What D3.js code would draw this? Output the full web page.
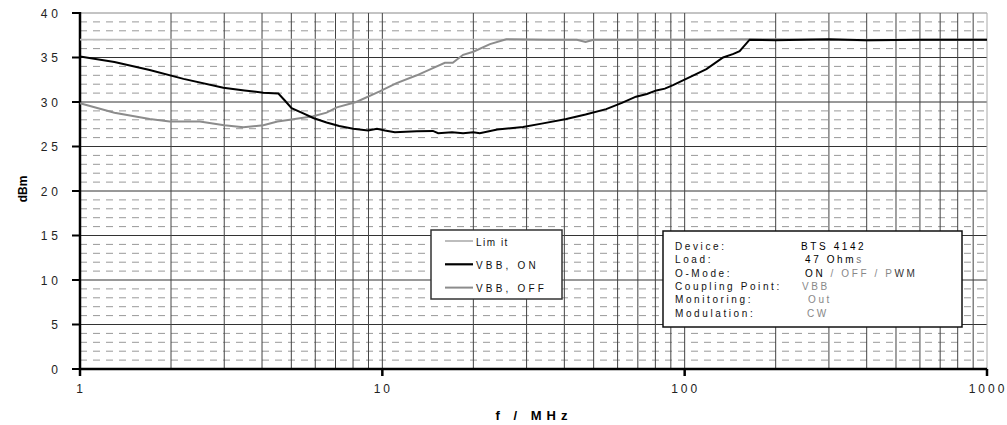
<!DOCTYPE html>
<meta charset="utf-8">
<script src="https://d3js.org/d3.v7.min.js"></script>
<style>
  body { margin: 0; background: #fff; }
  text { font-family: "Liberation Sans", Arial, sans-serif; }
</style>
<div id="chart"></div>
<script>
  // data
  var freqLimit = [1, 1000]
  var valLimit  = [37, 37]

  var freqOn = [1, 1.3, 1.7, 2.2, 2.98, 3.5, 4.04, 4.53, 4.75, 5.01, 5.5, 5.91, 6.54, 7.2, 8.01, 8.97, 9.6, 10.2, 11.0, 13, 14.7, 15.3, 17, 18.5, 20, 21, 24, 29.2, 34, 40.6, 47, 55, 62, 69, 75, 80.6, 86, 91.5, 104, 118, 134, 145, 152, 164, 200, 300, 400, 600, 1000]
  var valOn  = [35.1, 34.5, 33.6, 32.6, 31.6, 31.3, 31.05, 30.95, 30.2, 29.3, 28.7, 28.2, 27.7, 27.3, 27.0, 26.8, 27.0, 26.8, 26.6, 26.7, 26.75, 26.5, 26.6, 26.5, 26.6, 26.5, 26.9, 27.2, 27.6, 28.1, 28.6, 29.2, 29.9, 30.6, 30.9, 31.3, 31.5, 31.9, 32.8, 33.7, 35.0, 35.4, 35.7, 37.0, 36.95, 37.05, 36.95, 37.0, 37.0]

  var freqOff = [1, 1.3, 1.7, 1.98, 2.49, 3, 3.47, 4.04, 4.5, 4.94, 5.91, 6.54, 7.07, 8.2, 9.8, 11.1, 13, 14.7, 16.1, 17.1, 18.5, 20, 22.7, 25.7, 35, 44, 47, 50, 100, 200, 400, 700, 1000]
  var valOff  = [29.85, 28.8, 28.1, 27.8, 27.8, 27.4, 27.15, 27.4, 27.8, 28.0, 28.4, 28.8, 29.4, 30.0, 31.2, 32.1, 33.0, 33.8, 34.4, 34.4, 35.3, 35.65, 36.5, 37.05, 37.0, 37.0, 36.75, 37.0, 37.0, 37.05, 36.95, 37.0, 37.0]

  var yTicks = [0, 5, 10, 15, 20, 25, 30, 35, 40]
  var xTicks = [1, 10, 100, 1000]

  var legendNames = ["Lim it", "VBB, ON", "VBB, OFF"]
  var legendColors = ["#bdbdbd", "#000", "#8c8c8c"]

  var infoKeys = ["Device:", "Load:", "O-Mode:", "Coupling Point:", "Monitoring:", "Modulation:"]
  var infoVals = [
    [["BTS 4142", "#000"]],
    [["47 Ohm", "#000"], ["s", "#777"]],
    [["ON", "#000"], [" / OFF / P", "#888"], ["WM", "#333"]],
    [["VBB", "#888"]],
    [["Out", "#888"]],
    [["CW", "#888"]]
  ]
  var infoShift = [0, 4, 4, 1, 7, 6]

  var width = 1007, height = 425
  var plotL = 80, plotR = 987, plotT = 13, plotB = 369

  var svg = d3.select("#chart").append("svg")
    .attr("width", width).attr("height", height)

  var x = d3.scaleLog().domain([1, 1000]).range([plotL, plotR])
  var y = d3.scaleLinear().domain([0, 40]).range([plotB, plotT])

  // horizontal grid: dashed every 1, solid every 5
  d3.range(1, 40).forEach(function(v) {
    var solid = v % 5 == 0
    svg.append("line")
      .attr("x1", plotL).attr("x2", plotR)
      .attr("y1", y(v)).attr("y2", y(v))
      .attr("stroke", solid ? "#333" : "#999")
      .attr("stroke-width", 1)
      .attr("stroke-dasharray", solid ? null : "7,6")
  })
  // top and right border
  svg.append("line").attr("x1", plotL).attr("x2", plotR)
    .attr("y1", plotT).attr("y2", plotT).attr("stroke", "#888")
  svg.append("line").attr("x1", plotR).attr("x2", plotR)
    .attr("y1", plotT).attr("y2", plotB).attr("stroke", "#aaa")

  // vertical grid at 2..9 of each decade and decades
  var vgrid = []
  ;[1, 10, 100].forEach(function(d) {
    for (var m = 2; m <= 10; m++) vgrid.push(m * d)
  })
  vgrid.filter(function(f) { return f < 1000 }).forEach(function(f) {
    svg.append("line")
      .attr("x1", x(f)).attr("x2", x(f))
      .attr("y1", plotT).attr("y2", plotB)
      .attr("stroke", "#444").attr("stroke-width", 1)
  })

  // axes
  svg.append("line").attr("x1", plotL).attr("x2", plotL)
    .attr("y1", plotT - 1).attr("y2", plotB + 1)
    .attr("stroke", "#000").attr("stroke-width", 2.5)
  svg.append("line").attr("x1", plotL).attr("x2", plotR)
    .attr("y1", plotB).attr("y2", plotB)
    .attr("stroke", "#000").attr("stroke-width", 2.5)

  yTicks.forEach(function(t) {
    svg.append("line").attr("x1", plotL - 8).attr("x2", plotL)
      .attr("y1", y(t)).attr("y2", y(t))
      .attr("stroke", "#000").attr("stroke-width", 2)
    svg.append("text").attr("x", 62).attr("y", y(t) + 4.5)
      .attr("text-anchor", "end")
      .style("font-size", "12px").style("letter-spacing", "4px")
      .attr("fill", "#222")
      .text(String(t))
  })
  xTicks.forEach(function(t) {
    svg.append("line").attr("x1", x(t)).attr("x2", x(t))
      .attr("y1", plotB).attr("y2", plotB + 7)
      .attr("stroke", "#000").attr("stroke-width", 2.5)
    svg.append("text").attr("x", x(t) + 1).attr("y", 393)
      .attr("text-anchor", "middle")
      .style("font-size", "12px").style("letter-spacing", "3px")
      .attr("fill", "#222")
      .text(String(t))
  })

  // axis titles
  svg.append("text")
    .attr("transform", "translate(27,189) rotate(-90)")
    .attr("text-anchor", "middle")
    .style("font-size", "12px").style("font-weight", "bold")
    .text("dBm")
  svg.append("text").attr("x", 534).attr("y", 420)
    .attr("text-anchor", "middle")
    .style("font-size", "13px").style("font-weight", "bold")
    .style("letter-spacing", "5px")
    .text("f / MHz")

  // curves
  var line = d3.line()
    .x(function(d) { return x(d[0]) })
    .y(function(d) { return y(d[1]) })

  function series(fs, vs) { return fs.map(function(f, i) { return [f, vs[i]] }) }

  svg.append("path").datum(series(freqLimit, valLimit))
    .attr("d", line).attr("fill", "none")
    .attr("stroke", legendColors[0]).attr("stroke-width", 1.8)
  svg.append("path").datum(series(freqOff, valOff))
    .attr("d", line).attr("fill", "none")
    .attr("stroke", legendColors[2]).attr("stroke-width", 2)
  svg.append("path").datum(series(freqOn, valOn))
    .attr("d", line).attr("fill", "none")
    .attr("stroke", legendColors[1]).attr("stroke-width", 2)

  // legend box
  var lg = svg.append("g").attr("transform", "translate(431,230)")
  lg.append("rect").attr("width", 131).attr("height", 69)
    .attr("fill", "#fff").attr("stroke", "#333").attr("stroke-width", 1.5)
  legendNames.forEach(function(n, i) {
    var ly = 11 + i * 23.3
    lg.append("line").attr("x1", 14).attr("x2", 42)
      .attr("y1", ly).attr("y2", ly)
      .attr("stroke", legendColors[i]).attr("stroke-width", i == 1 ? 2.2 : 2)
    lg.append("text").attr("x", 45).attr("y", ly + 4.5)
      .style("font-size", "10px").style("letter-spacing", i == 0 ? "1.5px" : "3.2px")
      .attr("fill", "#111")
      .text(n)
  })

  // info box
  var ib = svg.append("g").attr("transform", "translate(663,231)")
  ib.append("rect").attr("width", 299).attr("height", 96)
    .attr("fill", "#fff").attr("stroke", "#111").attr("stroke-width", 1.5)
  infoKeys.forEach(function(k, i) {
    var ty = 19 + i * 13.3
    ib.append("text").attr("x", 12).attr("y", ty)
      .style("font-size", "10px").style("letter-spacing", "2.6px")
      .attr("fill", "#111").text(k)
    var t = ib.append("text").attr("x", 138 + infoShift[i]).attr("y", ty)
      .style("font-size", "10px").style("letter-spacing", "2.6px")
      .attr("xml:space", "preserve")
    infoVals[i].forEach(function(p) {
      t.append("tspan").attr("fill", p[1]).text(p[0])
    })
  })
</script>
